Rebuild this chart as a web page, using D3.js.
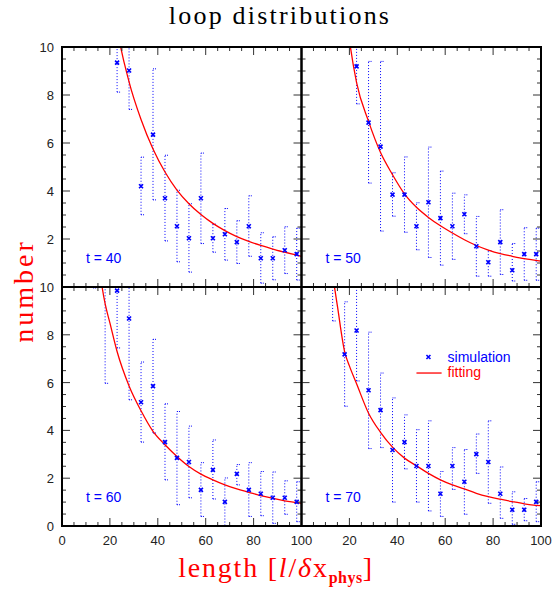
<!DOCTYPE html>
<html><head><meta charset="utf-8">
<script src="https://cdn.jsdelivr.net/npm/d3@7"></script>
<style>body{margin:0;background:#fff}</style>
</head><body>
<svg id="c" width="554" height="590"></svg>
<script>
// ---------- data ----------
const binX = [13,18,23,28,33,38,43,48,53,58,63,68,73,78,83,88,93,98];

const t40Val = [null,null,9.35,9.02,4.20,6.35,3.70,2.53,2.03,3.70,2.03,2.20,1.87,2.53,1.20,1.20,1.53,1.37];
const t40Lo  = [null,null,8.12,7.40,3.01,3.63,1.92,1.05,0.62,1.81,1.45,1.12,0.98,1.28,0.16,0.30,0.56,0.29];
const t40Hi  = [null,null,10.6,10.6,5.41,9.09,5.49,4.03,3.47,5.58,2.62,3.27,2.76,3.80,2.26,2.09,2.51,2.45];

const t50Val = [null,null,9.19,6.85,5.85,3.85,3.85,2.53,3.53,2.87,2.53,3.03,1.70,1.03,1.87,0.70,1.37,1.37];
const t50Lo  = [null,null,7.63,4.33,2.33,2.95,2.28,1.55,1.23,0.91,1.15,2.22,0.45,0.45,0.52,0.25,0.28,0.28];
const t50Hi  = [null,null,10.8,9.40,9.40,4.76,5.42,3.51,5.83,4.83,3.91,3.84,2.94,1.52,3.22,1.81,2.47,2.45];

const t60Val = [14.0,12.0,9.85,8.68,5.18,5.85,3.51,2.85,2.68,1.51,2.35,1.01,2.18,1.51,1.35,1.18,1.18,1.01];
const t60Lo  = [9.96,5.97,7.45,5.28,3.51,3.89,1.93,0.89,1.18,0.40,1.13,0.02,1.72,0.40,0.43,0.11,0.49,0.18];
const t60Hi  = [18.0,18.0,12.2,12.1,6.86,7.81,5.11,4.79,4.18,2.65,3.60,2.01,2.57,2.65,2.28,2.26,1.89,1.85];

const t70Val = [11.5,7.18,8.18,5.68,4.85,3.18,3.51,2.51,2.51,1.35,2.51,1.85,3.01,2.68,1.35,0.68,0.68,1.01];
const t70Lo  = [8.58,5.01,6.07,3.24,3.28,1.00,2.39,1.00,0.63,0.40,1.53,0.49,2.20,0.95,0.32,0.07,0.22,0.18];
const t70Hi  = [14.4,9.38,10.3,8.11,6.40,5.36,4.65,4.03,4.40,2.28,3.28,3.20,3.85,4.40,2.47,1.43,1.15,1.85];

const fitX  = [13,15,18,20,23,28,33,38,43,48,53,58,63,68,73,78,83,88,93,100];
const fit40 = [22.0,18.5,15.0,13.0,10.8,8.55,6.98,5.75,4.79,4.04,3.47,3.02,2.65,2.35,2.10,1.90,1.73,1.58,1.45,1.28];
const fit50 = [19.0,15.5,12.0,10.3,8.52,6.90,5.60,4.68,3.88,3.32,2.90,2.55,2.25,1.97,1.73,1.54,1.39,1.28,1.18,1.08];
const fit60 = [12.9,11.2,9.30,8.50,7.30,5.86,4.82,3.96,3.40,2.91,2.49,2.17,1.93,1.72,1.55,1.41,1.27,1.16,1.05,0.95];
const fit70 = [10.5,9.20,7.30,6.70,5.95,4.72,3.92,3.30,2.84,2.52,2.20,1.93,1.72,1.55,1.37,1.23,1.12,1.02,0.93,0.85];

const panelLabels = ["t = 40","t = 50","t = 60","t = 70"];
const xTicks = [0,20,40,60,80,100];
const yTicks = [0,2,4,6,8,10];
const legendLabels = ["simulation","fitting"];

// ---------- layout ----------
const svg = d3.select("#c");
const X0 = 62, XM = 301.5, X1 = 541;
const Y0 = 47, YM = 287, Y1 = 526;
const BLUE = "#0000ff", RED = "#ff0000";

const panels = [
  {x:[X0,XM], y:[YM,Y0], val:t40Val, lo:t40Lo, hi:t40Hi, fit:fit40, label:panelLabels[0], col:0,row:0},
  {x:[XM,X1], y:[YM,Y0], val:t50Val, lo:t50Lo, hi:t50Hi, fit:fit50, label:panelLabels[1], col:1,row:0},
  {x:[X0,XM], y:[Y1,YM], val:t60Val, lo:t60Lo, hi:t60Hi, fit:fit60, label:panelLabels[2], col:0,row:1},
  {x:[XM,X1], y:[Y1,YM], val:t70Val, lo:t70Lo, hi:t70Hi, fit:fit70, label:panelLabels[3], col:1,row:1}
];

const defs = svg.append("defs");

panels.forEach((p,pi) => {
  const xs = d3.scaleLinear().domain([0,100]).range(p.x);
  const ys = d3.scaleLinear().domain([0,10]).range(p.y);
  const left = p.x[0], right = p.x[1], top = p.y[1], bottom = p.y[0];

  defs.append("clipPath").attr("id","clip"+pi)
    .append("rect").attr("x",left).attr("y",top).attr("width",right-left).attr("height",bottom-top);

  const g = svg.append("g");
  const gc = g.append("g").attr("clip-path","url(#clip"+pi+")");

  // error bars
  binX.forEach((bx,i) => {
    if (p.val[i] == null) return;
    const x = xs(bx);
    gc.append("line").attr("x1",x).attr("x2",x).attr("y1",ys(p.lo[i])).attr("y2",ys(p.hi[i]))
      .attr("stroke",BLUE).attr("stroke-width",1).attr("stroke-dasharray","1,2");
    [p.lo[i],p.hi[i]].forEach(v => {
      gc.append("line").attr("x1",x).attr("x2",x+3).attr("y1",ys(v)).attr("y2",ys(v))
        .attr("stroke",BLUE).attr("stroke-width",1).attr("stroke-dasharray","1,1");
    });
  });

  // fit curve
  const line = d3.line().x((d,i)=>xs(fitX[i])).y(d=>ys(d)).curve(d3.curveMonotoneX);
  gc.append("path").datum(p.fit).attr("d",line).attr("fill","none").attr("stroke",RED).attr("stroke-width",1.3);

  // markers
  binX.forEach((bx,i) => {
    if (p.val[i] == null) return;
    const x = xs(bx), y = ys(p.val[i]);
    gc.append("path").attr("d",`M${x-2},${y-2}L${x+2},${y+2}M${x-2},${y+2}L${x+2},${y-2}`)
      .attr("stroke",BLUE).attr("stroke-width",1.6);
  });

  // ticks on all four sides (inward)
  const tk = g.append("g").attr("stroke","#333").attr("stroke-width",1);
  d3.range(0,101,5).forEach(v => {
    const len = (v % 20 === 0) ? 8 : 4;
    const x = xs(v);
    tk.append("line").attr("x1",x).attr("x2",x).attr("y1",bottom).attr("y2",bottom-len);
    tk.append("line").attr("x1",x).attr("x2",x).attr("y1",top).attr("y2",top+len);
  });
  d3.range(0,10.01,0.5).forEach(v => {
    const len = (Math.abs(v % 2) < 1e-6) ? 8 : 4;
    const y = ys(v);
    tk.append("line").attr("x1",left).attr("x2",left+len).attr("y1",y).attr("y2",y);
    tk.append("line").attr("x1",right).attr("x2",right-len).attr("y1",y).attr("y2",y);
  });

  // frame
  g.append("rect").attr("x",left).attr("y",top).attr("width",right-left).attr("height",bottom-top)
    .attr("fill","none").attr("stroke","#000").attr("stroke-width",2);

  // panel label
  g.append("text").attr("x",xs(10)).attr("y",bottom-24).attr("fill",BLUE)
    .attr("font-family","Liberation Sans, Arial, sans-serif").attr("font-size",14).text(p.label);

  // axis labels
  if (p.col === 0) {
    const yt = p.row === 0 ? yTicks.filter(v=>v>0) : yTicks;
    g.selectAll(null).data(yt).enter().append("text")
      .attr("x",left-8).attr("y",d=>ys(d)+5).attr("text-anchor","end")
      .attr("font-family","Liberation Sans, Arial, sans-serif").attr("font-size",13).attr("fill","#222")
      .text(d=>d);
  }
  if (p.row === 1) {
    const xt = p.col === 0 ? xTicks : xTicks.filter(v=>v>0);
    g.selectAll(null).data(xt).enter().append("text")
      .attr("x",d=>xs(d)).attr("y",bottom+19).attr("text-anchor","middle")
      .attr("font-family","Liberation Sans, Arial, sans-serif").attr("font-size",13).attr("fill","#222")
      .text(d=>d);
  }

  // legend in last panel
  if (pi === 3) {
    const lx = xs(53), ly = ys(7.07);
    g.append("path").attr("d",`M${lx-2},${ly-2}L${lx+2},${ly+2}M${lx-2},${ly+2}L${lx+2},${ly-2}`)
      .attr("stroke",BLUE).attr("stroke-width",1.6);
    g.append("text").attr("x",xs(61)).attr("y",ly+5).attr("fill",BLUE)
      .attr("font-family","Liberation Sans, Arial, sans-serif").attr("font-size",14).text(legendLabels[0]);
    const ly2 = ly + 16;
    g.append("line").attr("x1",xs(48)).attr("x2",xs(58.5)).attr("y1",ly2).attr("y2",ly2)
      .attr("stroke",RED).attr("stroke-width",1.3);
    g.append("text").attr("x",xs(61)).attr("y",ly2+4).attr("fill",RED)
      .attr("font-family","Liberation Sans, Arial, sans-serif").attr("font-size",14).text(legendLabels[1]);
  }
});

// title
svg.append("text").attr("x",280).attr("y",24).attr("text-anchor","middle")
  .attr("font-family","Liberation Serif, DejaVu Serif, serif").attr("font-size",26).attr("fill","#000")
  .attr("letter-spacing",2.2).text("loop distributions");

// y axis title
svg.append("text").attr("transform","translate(33,291) rotate(-90)").attr("text-anchor","middle")
  .attr("font-family","Liberation Serif, DejaVu Serif, serif").attr("font-size",28).attr("fill",RED)
  .attr("letter-spacing",3).text("number");

// x axis title
const xt = svg.append("text").attr("x",276).attr("y",577).attr("text-anchor","middle")
  .attr("font-family","Liberation Serif, DejaVu Serif, serif").attr("font-size",28).attr("fill",RED)
  .attr("letter-spacing",1.8);
xt.append("tspan").text("length [");
xt.append("tspan").attr("font-style","italic").text("l");
xt.append("tspan").text("/");
xt.append("tspan").attr("font-style","italic").text("δ");
xt.append("tspan").text("x");
xt.append("tspan").attr("font-size",16).attr("font-weight","bold").attr("dy",6).attr("letter-spacing",0.5).text("phys");
xt.append("tspan").attr("dy",-6).text("]");
</script>
</body></html>
